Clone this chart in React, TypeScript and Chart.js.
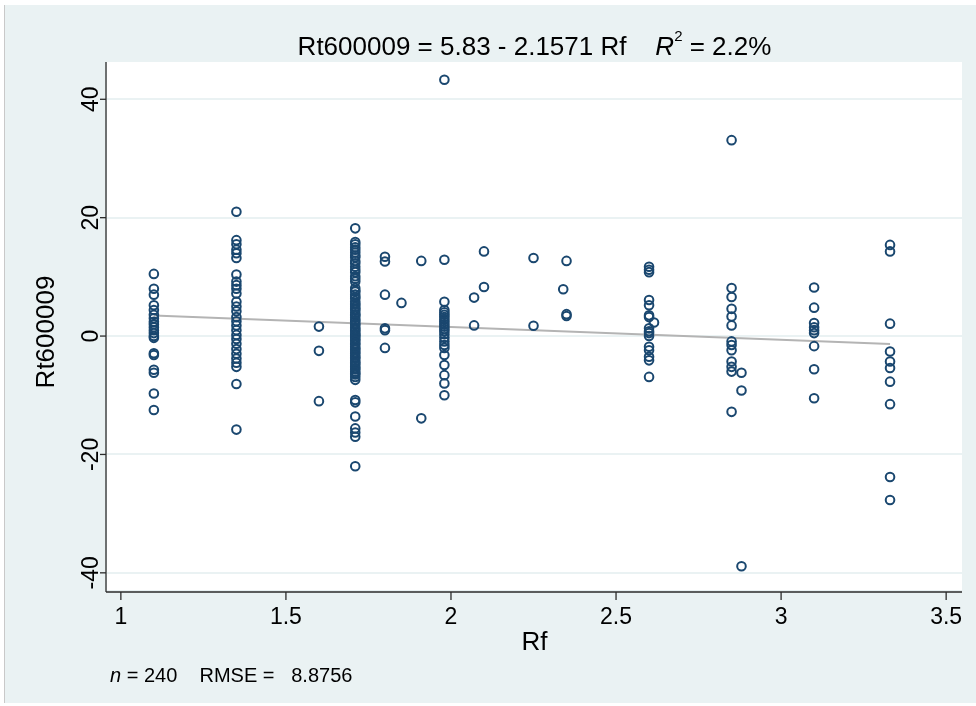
import React, { useEffect, useRef } from "react";
import { Chart, registerables } from "chart.js";

Chart.register(...registerables);

// ---- data (Rf groups and Rt600009 values) ----
const rt_1_10 = [10.5, 8.0, 7.0, 5.2, 4.4, 3.6, 3.0, 2.4, 2.0, 1.5, 1.0, 0.5, 0.0, -0.3, -2.9, -3.2, -5.7, -6.2, -9.7, -12.5];
const rt_1_35 = [21.0, 16.2, 15.5, 14.6, 14.0, 13.2, 10.4, 9.2, 8.6, 8.0, 7.2, 5.8, 5.0, 4.2, 3.2, 2.5, 1.8, 1.0, 0.2, -0.5, -1.3, -2.2, -3.0, -3.8, -4.5, -5.2, -8.1, -15.8];
const rt_1_60 = [1.6, -2.5, -11.0];
const rt_1_71 = [
  18.2, 15.9, 15.5, 15.0, 14.6, 14.1, 13.6, 13.3, 12.7, 12.3, 11.7, 11.2, 10.8, 10.1, 9.7, 9.2,
  8.1, 7.7, 7.5, 7.0, 6.6, 6.4, 5.9, 5.5, 5.3, 4.9, 4.6, 4.4, 4.0, 3.6, 3.5, 3.1, 2.7, 2.5, 2.1,
  1.9, 1.5, 1.2, 1.0, 0.7, 0.4, 0.2, 0.0, -0.3, -0.6, -0.8, -1.2, -1.4, -1.8, -2.1, -2.3, -2.7,
  -2.9, -3.3, -3.6, -3.8, -4.2, -4.5, -4.7, -5.1, -5.4, -5.6, -6.0, -6.3, -6.5, -6.9, -7.4,
  -10.8, -11.2, -13.6, -15.6, -16.3, -17.0, -22.0,
];
const rt_1_80 = [13.4, 12.6, 7.0, 1.3, 1.0, -2.0];
const rt_1_85 = [5.6];
const rt_1_91 = [12.7, -13.9];
const rt_1_98 = [43.3, 12.9, 5.8, 4.4, 4.0, 3.6, 3.2, 2.8, 2.4, 2.0, 1.6, 1.2, 0.8, 0.3, -0.3, -0.9, -1.5, -2.0, -3.2, -4.9, -6.6, -8.0, -10.0];
const rt_2_07 = [6.5, 1.8];
const rt_2_10 = [14.3, 8.3];
const rt_2_25 = [13.2, 1.75];
const rt_2_34 = [7.9];
const rt_2_35 = [12.7, 3.7, 3.4];
const rt_2_60 = [11.7, 11.2, 10.8, 6.1, 5.2, 3.5, 3.2, 1.3, 0.8, 0.5, 0.0, -1.8, -2.4, -3.5, -4.1, -6.9];
const rt_2_615 = [2.3];
const rt_2_85 = [33.1, 8.1, 6.6, 4.6, 3.3, 1.8, -0.9, -1.5, -2.4, -4.3, -5.2, -6.0, -12.8];
const rt_2_88 = [-6.2, -9.2, -38.9];
const rt_3_10 = [8.2, 4.8, 2.2, 1.5, 1.0, 0.5, -1.7, -5.6, -10.5];
const rt_3_33 = [15.4, 14.3, 2.1, -2.6, -4.3, -5.4, -7.7, -11.5, -23.8, -27.7];

const rfGroups: [number, number[]][] = [
  [1.1, rt_1_10], [1.35, rt_1_35], [1.6, rt_1_60], [1.71, rt_1_71], [1.8, rt_1_80],
  [1.85, rt_1_85], [1.91, rt_1_91], [1.98, rt_1_98], [2.07, rt_2_07], [2.1, rt_2_10],
  [2.25, rt_2_25], [2.34, rt_2_34], [2.35, rt_2_35], [2.6, rt_2_60], [2.615, rt_2_615],
  [2.85, rt_2_85], [2.88, rt_2_88], [3.1, rt_3_10], [3.33, rt_3_33],
];

// fitted line: Rt600009 = 5.83 - 2.1571 Rf
const fitIntercept = 5.83;
const fitSlope = -2.1571;
const fitRange = [1.1, 3.33];

const xTicks = [1, 1.5, 2, 2.5, 3, 3.5];
const xTickLabels = ["1", "1.5", "2", "2.5", "3", "3.5"];
const yTicks = [-40, -20, 0, 20, 40];
const yTickLabels = ["-40", "-20", "0", "20", "40"];

const FONT = "'Liberation Sans', Arial, sans-serif";
const BG = "#EAF2F3";
const NAVY = "#1A476F";

export default function App() {
  const ref = useRef<HTMLCanvasElement | null>(null);

  useEffect(() => {
    if (!ref.current) return;
    const scatterData = rfGroups.flatMap(([rf, vals]) => vals.map((v) => ({ x: rf, y: v })));
    const lineData = fitRange.map((x) => ({ x, y: fitIntercept + fitSlope * x }));

    const decor = {
      id: "decor",
      beforeDraw(chart: any) {
        const { ctx, chartArea: a } = chart;
        ctx.save();
        ctx.fillStyle = "#ffffff";
        ctx.fillRect(0, 0, chart.width, chart.height);
        ctx.fillStyle = BG;
        ctx.fillRect(5, 5, chart.width - 5, chart.height - 8);
        ctx.strokeStyle = "#c9c9c9";
        ctx.lineWidth = 1;
        ctx.beginPath();
        ctx.moveTo(4.5, 5);
        ctx.lineTo(4.5, chart.height - 3);
        ctx.stroke();
        ctx.fillStyle = "#ffffff";
        ctx.fillRect(a.left, a.top, a.right - a.left, a.bottom - a.top);
        ctx.restore();
      },
      afterDraw(chart: any) {
        const { ctx, chartArea: a, scales } = chart;
        const xs = scales.x;
        const ys = scales.y;
        ctx.save();
        ctx.strokeStyle = "#2b2b2b";
        ctx.fillStyle = "#000";
        ctx.lineWidth = 1.3;
        // y axis
        const ax = a.left - 1;
        ctx.beginPath();
        ctx.moveTo(ax, a.top);
        ctx.lineTo(ax, a.bottom + 2);
        ctx.stroke();
        ctx.font = `23px ${FONT}`;
        ctx.textAlign = "center";
        ctx.textBaseline = "middle";
        yTicks.forEach((v, i) => {
          const py = ys.getPixelForValue(v);
          ctx.beginPath();
          ctx.moveTo(ax - 6, py);
          ctx.lineTo(ax, py);
          ctx.stroke();
          ctx.save();
          ctx.translate(ax - 15, py);
          ctx.rotate(-Math.PI / 2);
          ctx.fillText(yTickLabels[i], 0, 1);
          ctx.restore();
        });
        // x axis
        const ay = a.bottom + 2;
        ctx.beginPath();
        ctx.moveTo(ax, ay);
        ctx.lineTo(a.right, ay);
        ctx.stroke();
        xTicks.forEach((v, i) => {
          const px = xs.getPixelForValue(v);
          ctx.beginPath();
          ctx.moveTo(px, ay);
          ctx.lineTo(px, ay + 8);
          ctx.stroke();
          ctx.fillText(xTickLabels[i], px, ay + 26);
        });
        // axis titles
        ctx.font = `26px ${FONT}`;
        ctx.fillText("Rf", (a.left + a.right) / 2, ay + 51);
        ctx.save();
        ctx.translate(47, (a.top + a.bottom) / 2 + 6);
        ctx.rotate(-Math.PI / 2);
        ctx.fillText("Rt600009", 0, 0);
        ctx.restore();

        // title with italic R and superscript 2
        const p1 = "Rt600009 = 5.83 - 2.1571 Rf";
        const gap = "    ";
        const p3 = " = 2.2%";
        const big = `26px ${FONT}`;
        const ital = `italic 26px ${FONT}`;
        const sup = `15px ${FONT}`;
        ctx.textAlign = "left";
        ctx.textBaseline = "alphabetic";
        ctx.font = big;
        const w1 = ctx.measureText(p1 + gap).width;
        const w3 = ctx.measureText(p3).width;
        ctx.font = ital;
        const wR = ctx.measureText("R").width;
        ctx.font = sup;
        const wS = ctx.measureText("2").width;
        const total = w1 + wR + wS + w3;
        let tx = (a.left + a.right) / 2 - total / 2;
        const tb = 55;
        ctx.font = big;
        ctx.fillText(p1 + gap, tx, tb);
        tx += w1;
        ctx.font = ital;
        ctx.fillText("R", tx, tb);
        tx += wR;
        ctx.font = sup;
        ctx.fillText("2", tx, tb - 14);
        tx += wS;
        ctx.font = big;
        ctx.fillText(p3, tx, tb);

        // footer note
        const fb = 682;
        let fx = 110;
        ctx.font = `italic 20px ${FONT}`;
        ctx.fillText("n", fx, fb);
        fx += ctx.measureText("n").width;
        ctx.font = `20px ${FONT}`;
        ctx.fillText(" = 240    RMSE =   8.8756", fx, fb);
        ctx.restore();
      },
    };

    const chart = new Chart(ref.current, {
      type: "scatter",
      data: {
        datasets: [
          {
            type: "line",
            label: "Fitted values",
            data: lineData,
            borderColor: "#b4b4b4",
            borderWidth: 2,
            pointRadius: 0,
            fill: false,
            order: 2,
          } as any,
          {
            label: "Rt600009",
            data: scatterData,
            pointStyle: "circle",
            pointRadius: 4.3,
            pointHoverRadius: 4.3,
            borderColor: NAVY,
            backgroundColor: "rgba(0,0,0,0)",
            borderWidth: 2,
            order: 1,
          },
        ],
      },
      options: {
        responsive: false,
        animation: false,
        devicePixelRatio: 1,
        layout: { padding: { top: 62, right: 14, left: 0, bottom: 0 } },
        plugins: { legend: { display: false }, tooltip: { enabled: false }, title: { display: false } },
        scales: {
          x: {
            type: "linear",
            min: 0.958,
            max: 3.548,
            grid: { display: false },
            border: { display: false },
            ticks: { display: false },
            afterBuildTicks: (s: any) => { s.ticks = xTicks.map((v) => ({ value: v })); },
            afterFit: (s: any) => { s.height = 116; },
          },
          y: {
            type: "linear",
            min: -42.9,
            max: 46.3,
            grid: { color: BG, lineWidth: 2, drawTicks: false },
            border: { display: false },
            ticks: { display: false },
            afterBuildTicks: (s: any) => { s.ticks = yTicks.map((v) => ({ value: v })); },
            afterFit: (s: any) => { s.width = 107; },
          },
        },
      },
      plugins: [decor],
    });
    return () => chart.destroy();
  }, []);

  return (
    <div style={{ position: "fixed", left: 0, top: 0, width: 976, height: 706, background: "#fff" }}>
      <canvas ref={ref} width={976} height={706} style={{ width: 976, height: 706, display: "block" }} />
    </div>
  );
}
